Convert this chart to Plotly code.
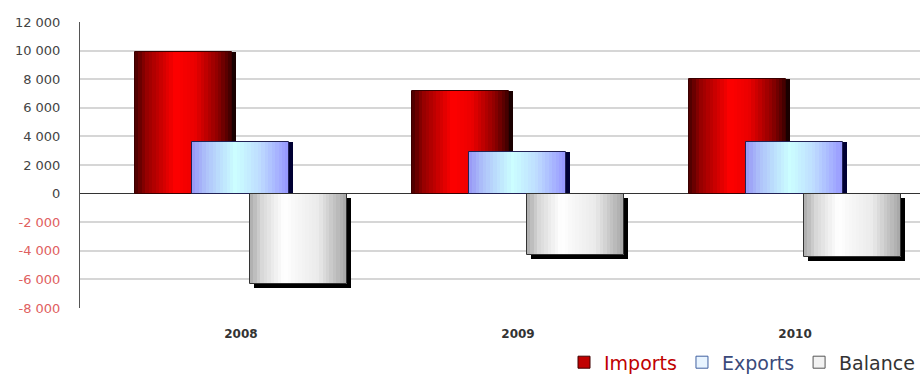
import plotly.graph_objects as go

# ---- data ----
years = ["2008", "2009", "2010"]
imports = [9900, 7200, 8000]
exports = [3600, 2900, 3600]
balance = [-6300, -4300, -4400]
series_names = ["Imports", "Exports", "Balance"]
y_tick_values = [12000, 10000, 8000, 6000, 4000, 2000, 0, -2000, -4000, -6000, -8000]

# ---- style ----
PX = 1 / 277.0          # x data units per pixel
BAR_W = 0.35
N_STRIPS = 28
styles = {
    "Imports": dict(
        left=-0.383,
        stops=[(0, (70, 0, 0)), (0.12, (150, 0, 0)), (0.42, (255, 0, 0)),
               (0.62, (235, 0, 0)), (0.86, (140, 0, 0)), (1, (60, 0, 0))],
        shadow="#1a0000", outline="#3a0000", shadow_base=0,
        legend_fill="#c00000", legend_line="#400000", text="#c00000"),
    "Exports": dict(
        left=-0.177,
        stops=[(0, (150, 150, 245)), (0.15, (175, 195, 250)), (0.45, (204, 255, 255)),
               (0.7, (190, 220, 255)), (1, (150, 150, 255))],
        shadow="#000033", outline="#222255", shadow_base=0,
        legend_fill="#e8f4ff", legend_line="#4060a0", text="#3a4a7a"),
    "Balance": dict(
        left=0.032,
        stops=[(0, (170, 170, 170)), (0.12, (215, 215, 215)), (0.35, (255, 255, 255)),
               (0.7, (235, 235, 235)), (1, (165, 165, 165))],
        shadow="#000000", outline="#333333", shadow_base=-300,
        legend_fill="#f2f2f2", legend_line="#555555", text="#333333"),
}
values = {"Imports": imports, "Exports": exports, "Balance": balance}


def grad(stops, t):
    for (p0, c0), (p1, c1) in zip(stops[:-1], stops[1:]):
        if p0 <= t <= p1:
            f = (t - p0) / (p1 - p0) if p1 > p0 else 0
            c = [round(a + (b - a) * f) for a, b in zip(c0, c1)]
            return "rgb(%d,%d,%d)" % tuple(c)
    return "rgb(%d,%d,%d)" % stops[-1][1]


fig = go.Figure()
for name in series_names:
    st = styles[name]
    vals = values[name]
    # shadow
    fig.add_trace(go.Bar(x=years, y=vals, base=st["shadow_base"],
                         offset=st["left"] + 4 * PX, width=BAR_W,
                         marker=dict(color=st["shadow"], line=dict(width=0)),
                         showlegend=False, hoverinfo="skip"))
    # gradient strips
    sw = BAR_W / N_STRIPS
    for i in range(N_STRIPS):
        t = (i + 0.5) / N_STRIPS
        fig.add_trace(go.Bar(x=years, y=vals, offset=st["left"] + i * sw,
                             width=sw * (1.6 if i < N_STRIPS - 1 else 1.0),
                             marker=dict(color=grad(st["stops"], t), line=dict(width=0)),
                             showlegend=False, hoverinfo="skip"))
    # outline
    fig.add_trace(go.Bar(x=years, y=vals, offset=st["left"], width=BAR_W,
                         marker=dict(color="rgba(0,0,0,0)", line=dict(color=st["outline"], width=1)),
                         showlegend=False, hoverinfo="skip"))
    # legend entry
    fig.add_trace(go.Bar(x=years, y=[None] * len(years), name=f"<span style='color:{st['text']}'>{name}</span>",
                         marker=dict(color=st["legend_fill"], line=dict(color=st["legend_line"], width=1)),
                         showlegend=True))


def fmt(v):
    s = f"{abs(v):,}".replace(",", " ")
    s = ("-" if v < 0 else "") + s
    color = "#e06060" if v < 0 else "#444444"
    return f"<span style='color:{color}'>{s}</span>"


fig.update_layout(
    width=924, height=378,
    margin=dict(l=80, r=4, t=22, b=70, autoexpand=False),
    paper_bgcolor="white", plot_bgcolor="white",
    barmode="overlay", bargap=0,
    showlegend=True,
    legend=dict(orientation="h", x=1.0, xanchor="right", y=-0.19, yanchor="middle",
                font=dict(family="DejaVu Sans", size=19), itemwidth=30,
                traceorder="normal", bgcolor="rgba(0,0,0,0)"),
    font=dict(family="DejaVu Sans", size=11, color="#444444"),
    xaxis=dict(type="category", range=[-0.581, 2.451], showgrid=False, showline=False,
               zeroline=False, ticks="", ticklabelstandoff=17,
               tickfont=dict(family="DejaVu Sans", size=12, color="#333333", weight="bold")),
    yaxis=dict(range=[-8000, 12000], tickvals=y_tick_values,
               ticktext=[fmt(v) for v in y_tick_values],
               showgrid=True, gridcolor="#d6d6d6", gridwidth=1.5,
               zeroline=True, zerolinecolor="#333333", zerolinewidth=1,
               showline=True, linecolor="#555555", linewidth=1,
               ticks="", ticklabelstandoff=16,
               tickfont=dict(family="DejaVu Sans", size=13)),
)

fig.write_html("out.html")
